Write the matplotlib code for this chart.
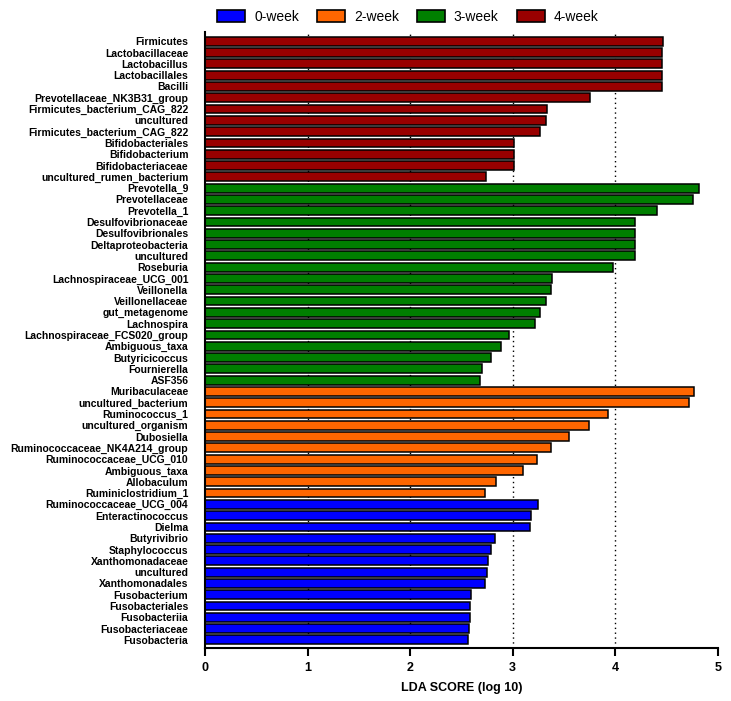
import matplotlib
matplotlib.use("Agg")
import matplotlib.pyplot as plt
from matplotlib.patches import Patch

plt.rcParams['font.family'] = ['Liberation Sans', 'DejaVu Sans']

groups = ["0-week", "2-week", "3-week", "4-week"]
group_colors = {"0-week": "#0000FF", "2-week": "#FF6600", "3-week": "#007F00", "4-week": "#990000"}

taxa_4wk = ["Firmicutes", "Lactobacillaceae", "Lactobacillus", "Lactobacillales", "Bacilli",
            "Prevotellaceae_NK3B31_group", "Firmicutes_bacterium_CAG_822", "uncultured",
            "Firmicutes_bacterium_CAG_822", "Bifidobacteriales", "Bifidobacterium",
            "Bifidobacteriaceae", "uncultured_rumen_bacterium"]
lda_4wk = [4.47, 4.46, 4.46, 4.46, 4.46, 3.75, 3.33, 3.32, 3.27, 3.01, 3.01, 3.01, 2.74]

taxa_3wk = ["Prevotella_9", "Prevotellaceae", "Prevotella_1", "Desulfovibrionaceae",
            "Desulfovibrionales", "Deltaproteobacteria", "uncultured", "Roseburia",
            "Lachnospiraceae_UCG_001", "Veillonella", "Veillonellaceae", "gut_metagenome",
            "Lachnospira", "Lachnospiraceae_FCS020_group", "Ambiguous_taxa", "Butyricicoccus",
            "Fournierella", "ASF356"]
lda_3wk = [4.82, 4.76, 4.41, 4.19, 4.19, 4.19, 4.19, 3.98, 3.38, 3.37, 3.32, 3.27,
           3.22, 2.96, 2.89, 2.79, 2.70, 2.68]

taxa_2wk = ["Muribaculaceae", "uncultured_bacterium", "Ruminococcus_1", "uncultured_organism",
            "Dubosiella", "Ruminococcaceae_NK4A214_group", "Ruminococcaceae_UCG_010",
            "Ambiguous_taxa", "Allobaculum", "Ruminiclostridium_1"]
lda_2wk = [4.77, 4.72, 3.93, 3.74, 3.55, 3.37, 3.24, 3.10, 2.84, 2.73]

taxa_0wk = ["Ruminococcaceae_UCG_004", "Enteractinococcus", "Dielma", "Butyrivibrio",
            "Staphylococcus", "Xanthomonadaceae", "uncultured", "Xanthomonadales",
            "Fusobacterium", "Fusobacteriales", "Fusobacteriia", "Fusobacteriaceae",
            "Fusobacteria"]
lda_0wk = [3.25, 3.18, 3.17, 2.83, 2.79, 2.76, 2.75, 2.73, 2.59, 2.58, 2.58, 2.57, 2.56]

xticks = [0, 1, 2, 3, 4, 5]
xlabel = "LDA SCORE (log 10)"

labels, values, colors = [], [], []
for g, t, v in [("4-week", taxa_4wk, lda_4wk), ("3-week", taxa_3wk, lda_3wk),
                ("2-week", taxa_2wk, lda_2wk), ("0-week", taxa_0wk, lda_0wk)]:
    labels += t
    values += v
    colors += [group_colors[g]] * len(t)

fig = plt.figure(figsize=(7.31, 7.01), dpi=100)
ax = fig.add_axes([0.2804, 0.0756, 0.982 - 0.2804, 0.954 - 0.0756])

pos = list(range(len(labels)))
for xv in xticks[1:5]:
    ax.axvline(xv, color='black', linestyle=(0, (1, 2.5)), linewidth=1.0, zorder=0)
ax.barh(pos, values, height=0.78, color=colors, edgecolor='black', linewidth=1.1, zorder=2)

ax.set_ylim(len(labels) - 1 + 0.72, -0.8)
ax.set_xlim(0, 5)
ax.set_yticks(pos)
ax.set_yticklabels(labels, fontsize=7.5, fontweight='bold')
ax.tick_params(axis='y', length=0, pad=12)
ax.set_xticks(xticks)
ax.set_xticklabels([str(x) for x in xticks], fontsize=9, fontweight='bold')
ax.tick_params(axis='x', length=6, width=1.5, pad=4)
ax.set_xlabel(xlabel, fontsize=9, fontweight='bold', labelpad=6)
for s in ['top', 'right']:
    ax.spines[s].set_visible(False)
for s in ['left', 'bottom']:
    ax.spines[s].set_linewidth(1.5)

handles = [Patch(facecolor=group_colors[g], edgecolor='black', linewidth=1.2, label=g) for g in groups]
fig.legend(handles=handles, loc='center', bbox_to_anchor=(0.558, 0.976), ncol=4, frameon=False,
           fontsize=10, handlelength=2.0, handleheight=0.9, columnspacing=1.3, handletextpad=0.65)

fig.savefig("out.png", dpi=100)
